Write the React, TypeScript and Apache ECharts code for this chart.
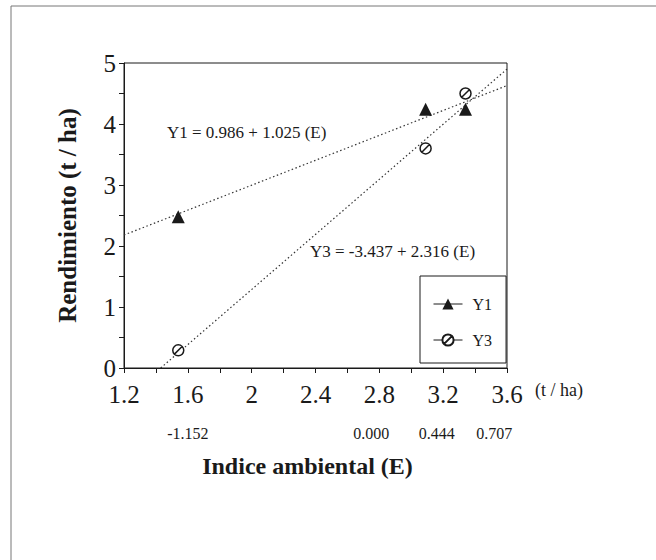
import React, { useEffect, useRef } from "react";
import * as echarts from "echarts";

// ---- data ----
const seriesNames = ["Y1", "Y3"];
const y1Points: number[][] = [
  [1.54, 2.48],
  [3.09, 4.24],
  [3.34, 4.24],
];
const y3Points: number[][] = [
  [1.54, 0.29],
  [3.09, 3.6],
  [3.34, 4.5],
];
const y1Fit: number[][] = [
  [1.2, 2.18],
  [3.6, 4.63],
];
const y3Fit: number[][] = [
  [1.43, 0],
  [3.6, 4.9],
];
const envIndexPositions = [1.6, 2.75, 3.16, 3.52];
const envIndexLabels = ["-1.152", "0.000", "0.444", "0.707"];
const equations = ["Y1 = 0.986 + 1.025 (E)", "Y3 = -3.437 + 2.316 (E)"];
const yTitle = "Rendimiento (t / ha)";
const xTitle = "Indice ambiental (E)";
const xUnit = "(t / ha)";

const FONT = "'Liberation Serif', 'Times New Roman', serif";
const INK = "#1a1a1a";
const Y3_SYMBOL =
  "path://M10,0A10,10,0,1,1,10,20A10,10,0,1,1,10,0ZM3.5,16.5L16.5,3.5";

export default function App() {
  const ref = useRef<HTMLDivElement>(null);
  useEffect(() => {
    if (!ref.current) return;
    const chart = echarts.init(ref.current, undefined, { renderer: "svg" });
    const option: any = {
      animation: false,
      backgroundColor: "#ffffff",
      textStyle: { fontFamily: FONT, color: INK },
      grid: { left: 124, top: 63, right: 149, bottom: 192, show: true, borderColor: INK, borderWidth: 1, backgroundColor: "transparent" },
      legend: {
        data: seriesNames,
        orient: "vertical",
        left: 420,
        top: 276,
        padding: [20, 14, 15, 13],
        itemGap: 20,
        itemWidth: 29,
        itemHeight: 14,
        backgroundColor: "#fff",
        borderColor: INK,
        borderWidth: 1,
        borderRadius: 0,
        textStyle: { fontFamily: FONT, fontSize: 16, color: INK, padding: [0, 0, 0, 5] },
        lineStyle: { color: INK, width: 1, type: "solid", opacity: 1 },
      },
      xAxis: [
        {
          type: "value",
          min: 1.2,
          max: 3.6,
          interval: 0.4,
          axisLine: { show: true, onZero: false, lineStyle: { color: INK, width: 1 } },
          axisTick: { show: true, length: 5, lineStyle: { color: INK } },
          minorTick: { show: true, splitNumber: 2, length: 5, lineStyle: { color: INK } },
          splitLine: { show: false },
          axisLabel: { fontFamily: FONT, fontSize: 25, color: INK, margin: 14 },
          name: xUnit,
          nameLocation: "end",
          nameGap: 28,
          nameTextStyle: { fontFamily: FONT, fontSize: 18, color: INK, verticalAlign: "top", padding: [13, 0, 0, 0] },
        },
        {
          type: "value",
          min: 1.2,
          max: 3.6,
          position: "bottom",
          axisLine: { show: false },
          axisTick: { show: false },
          splitLine: { show: false },
          axisLabel: {
            customValues: envIndexPositions,
            fontFamily: FONT,
            fontSize: 16,
            color: INK,
            margin: 57,
            formatter: (v: number) => {
              const i = envIndexPositions.findIndex((p) => Math.abs(p - v) < 1e-6);
              return i >= 0 ? envIndexLabels[i] : "";
            },
          },
          name: xTitle,
          nameLocation: "middle",
          nameGap: 86,
          nameTextStyle: { fontFamily: FONT, fontSize: 24, fontWeight: "bold", color: INK, padding: [0, 16, 0, 0] },
        },
      ],
      yAxis: {
        type: "value",
        min: 0,
        max: 5,
        interval: 1,
        axisLine: { show: true, onZero: false, lineStyle: { color: INK, width: 1 } },
        axisTick: { show: true, length: 5, lineStyle: { color: INK } },
        minorTick: { show: true, splitNumber: 2, length: 5, lineStyle: { color: INK } },
        splitLine: { show: false },
        axisLabel: { fontFamily: FONT, fontSize: 25, color: INK, margin: 8 },
        name: yTitle,
        nameLocation: "middle",
        nameGap: 44,
        nameRotate: 90,
        nameTextStyle: { fontFamily: FONT, fontSize: 25, fontWeight: "bold", color: INK },
      },
      series: [
        {
          name: "Y1 fit",
          type: "line",
          data: y1Fit,
          symbol: "none",
          silent: true,
          lineStyle: { color: "#333", width: 1.2, type: [1.5, 2.5] },
          z: 2,
        },
        {
          name: "Y3 fit",
          type: "line",
          data: y3Fit,
          symbol: "none",
          silent: true,
          lineStyle: { color: "#333", width: 1.2, type: [1.5, 2.5] },
          z: 2,
        },
        {
          name: seriesNames[0],
          type: "line",
          data: y1Points,
          symbol: "triangle",
          symbolSize: 13,
          itemStyle: { color: INK },
          lineStyle: { opacity: 0 },
          z: 5,
        },
        {
          name: seriesNames[1],
          type: "line",
          data: y3Points,
          symbol: Y3_SYMBOL,
          symbolSize: 11,
          itemStyle: { color: "rgba(255,255,255,1)", borderColor: INK, borderWidth: 1.5 },
          lineStyle: { opacity: 0 },
          z: 5,
        },
      ],
      graphic: [
        { type: "line", shape: { x1: 11, y1: 6, x2: 11, y2: 560 }, style: { stroke: "#777", lineWidth: 1 } },
        { type: "line", shape: { x1: 11, y1: 6, x2: 656, y2: 6 }, style: { stroke: "#777", lineWidth: 1 } },
        {
          type: "text",
          left: 167,
          top: 124,
          style: { text: equations[0], font: `17px ${FONT}`, fill: INK },
        },
        {
          type: "text",
          left: 310,
          top: 243,
          style: { text: equations[1], font: `17px ${FONT}`, fill: INK },
        },
      ],
    };
    chart.setOption(option);
    return () => chart.dispose();
  }, []);
  return (
    <div
      ref={ref}
      style={{ position: "absolute", left: 0, top: 0, width: 656, height: 560, background: "#fff" }}
    />
  );
}
